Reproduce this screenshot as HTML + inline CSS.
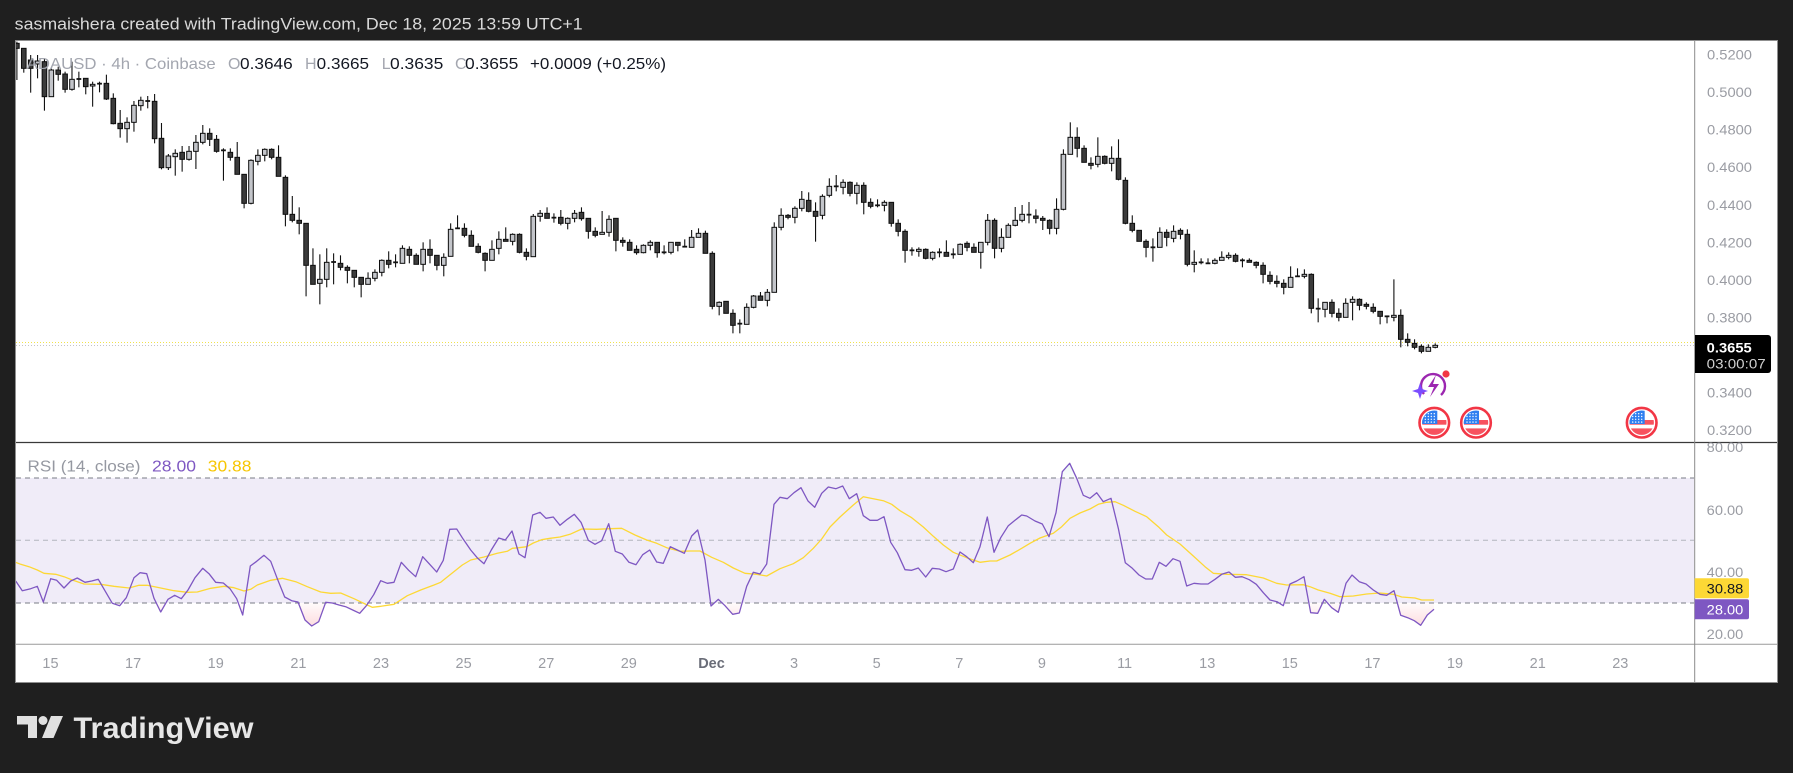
<!DOCTYPE html>
<html><head><meta charset="utf-8">
<style>
html,body{margin:0;padding:0;background:#1f1f1f;}
svg{display:block;}
text{font-family:"Liberation Sans",sans-serif;}
</style></head>
<body>
<svg id="s" xmlns="http://www.w3.org/2000/svg" width="1793" height="773" viewBox="0 0 1793 773">
<defs>
  <clipPath id="cp"><rect x="16" y="41" width="1678" height="401"/></clipPath>
  <clipPath id="cr"><rect x="16" y="442" width="1678" height="202"/></clipPath>
  <clipPath id="below30"><rect x="16" y="603" width="1678" height="41"/></clipPath>
  <clipPath id="above70"><rect x="16" y="442" width="1678" height="36"/></clipPath>
  <clipPath id="lab80"><rect x="1695" y="442.5" width="82" height="30"/></clipPath>
  <linearGradient id="pg" x1="0" y1="603" x2="0" y2="634" gradientUnits="userSpaceOnUse">
    <stop offset="0" stop-color="#f23645" stop-opacity="0.02"/>
    <stop offset="1" stop-color="#f23645" stop-opacity="0.22"/>
  </linearGradient>
  <linearGradient id="gg" x1="0" y1="478" x2="0" y2="447" gradientUnits="userSpaceOnUse">
    <stop offset="0" stop-color="#089981" stop-opacity="0.02"/>
    <stop offset="1" stop-color="#089981" stop-opacity="0.15"/>
  </linearGradient>
  <clipPath id="fc1"><circle cx="0" cy="0" r="12.2"/></clipPath>
</defs>

<!-- title -->
<text x="14.7" y="29.5" font-size="17" fill="#d9d9d9" textLength="568" lengthAdjust="spacingAndGlyphs">sasmaishera created with TradingView.com, Dec 18, 2025 13:59 UTC+1</text>

<!-- chart frame -->
<rect x="15.5" y="40.5" width="1762" height="642" fill="#ffffff" stroke="#8f8f8f" stroke-width="1"/>

<!-- RSI band -->
<rect x="16" y="478" width="1678" height="125" fill="#f0ecf8"/>
<line x1="16" y1="478" x2="1694" y2="478" stroke="#787b86" stroke-width="1" stroke-dasharray="5,4"/>
<line x1="16" y1="540.3" x2="1694" y2="540.3" stroke="#b2b5be" stroke-width="1" stroke-dasharray="5,4"/>
<line x1="16" y1="603" x2="1694" y2="603" stroke="#787b86" stroke-width="1" stroke-dasharray="5,4"/>

<!-- price dotted line -->
<line x1="16" y1="342.5" x2="1694" y2="342.5" stroke="#f2e34a" stroke-width="1" stroke-dasharray="1,2"/>
<line x1="16" y1="345.5" x2="1694" y2="345.5" stroke="#c4c4c4" stroke-width="1" stroke-dasharray="1,2"/>

<g id="candles" clip-path="url(#cp)"></g>
<g id="rsi" clip-path="url(#cr)"></g>

<!-- separators -->
<line x1="16" y1="442.5" x2="1777" y2="442.5" stroke="#3a3a3a" stroke-width="1.2"/>
<line x1="16" y1="644.3" x2="1777" y2="644.3" stroke="#9a9a9a" stroke-width="1"/>
<line x1="1694.7" y1="41" x2="1694.7" y2="682" stroke="#8a8a8a" stroke-width="1"/>

<!-- legend -->
<g font-size="16">
  <text x="26.7" y="69" fill="#a3a6af" textLength="189" lengthAdjust="spacingAndGlyphs">ADAUSD · 4h · Coinbase</text>
  <text x="228" y="69" fill="#a3a6af">O</text>
  <text x="240" y="69" fill="#131722" textLength="52.7" lengthAdjust="spacingAndGlyphs">0.3646</text>
  <text x="305" y="69" fill="#a3a6af">H</text>
  <text x="316.7" y="69" fill="#131722" textLength="52.3" lengthAdjust="spacingAndGlyphs">0.3665</text>
  <text x="381.7" y="69" fill="#a3a6af">L</text>
  <text x="390" y="69" fill="#131722" textLength="53.3" lengthAdjust="spacingAndGlyphs">0.3635</text>
  <text x="455" y="69" fill="#a3a6af">C</text>
  <text x="465" y="69" fill="#131722" textLength="53.3" lengthAdjust="spacingAndGlyphs">0.3655</text>
  <text x="530" y="69" fill="#131722" textLength="136" lengthAdjust="spacingAndGlyphs">+0.0009 (+0.25%)</text>
</g>
<g font-size="16">
  <text x="27.5" y="471.5" fill="#9598a1" textLength="113" lengthAdjust="spacingAndGlyphs">RSI (14, close)</text>
  <text x="152" y="471.5" fill="#7e57c2" textLength="44" lengthAdjust="spacingAndGlyphs">28.00</text>
  <text x="207.8" y="471.5" fill="#f7c600" textLength="43.6" lengthAdjust="spacingAndGlyphs">30.88</text>
</g>

<!-- price axis labels -->
<g id="paxis" font-size="14" fill="#9a9ca3"></g>

<!-- current price box -->
<path d="M1695,335 H1768 a3,3 0 0 1 3,3 V370 a3,3 0 0 1 -3,3 H1695 Z" fill="#000"/>
<text x="1706.7" y="352.3" font-size="14" font-weight="bold" fill="#ffffff" textLength="45" lengthAdjust="spacingAndGlyphs">0.3655</text>
<text x="1706.7" y="368.3" font-size="14" fill="#d0d0d0" textLength="59" lengthAdjust="spacingAndGlyphs">03:00:07</text>

<!-- RSI axis labels -->
<g font-size="14" fill="#9a9ca3">
  <text x="1706.7" y="452" textLength="36.6" lengthAdjust="spacingAndGlyphs" clip-path="url(#lab80)">80.00</text>
  <text x="1706.7" y="515" textLength="36.6" lengthAdjust="spacingAndGlyphs">60.00</text>
  <text x="1706.7" y="577" textLength="36.6" lengthAdjust="spacingAndGlyphs">40.00</text>
  <text x="1706.7" y="639" textLength="36.6" lengthAdjust="spacingAndGlyphs">20.00</text>
</g>
<path d="M1694.7,578.3 H1747 a2,2 0 0 1 2,2 V596.3 a2,2 0 0 1 -2,2 H1694.7 Z" fill="#fdd835"/>
<text x="1706.7" y="593.5" font-size="14" fill="#131722" textLength="36.6" lengthAdjust="spacingAndGlyphs">30.88</text>
<path d="M1694.7,599.3 H1747 a2,2 0 0 1 2,2 V617.3 a2,2 0 0 1 -2,2 H1694.7 Z" fill="#7e57c2"/>
<text x="1706.7" y="614.5" font-size="14" fill="#ffffff" textLength="36.6" lengthAdjust="spacingAndGlyphs">28.00</text>

<!-- time axis -->
<g id="taxis" font-size="14.5" fill="#9a9ca3" text-anchor="middle"></g>

<!-- icons -->
<g id="icons"></g>

<!-- TradingView logo -->
<g fill="#e0e0e0">
  <path d="M17,716 H37 V738 H28 V724.5 H17 Z"/>
  <circle cx="43" cy="720.5" r="4.5"/>
  <path d="M51,716 H63 L53.5,738 H42 Z"/>
</g>
<text x="73.5" y="738" font-size="30" font-weight="bold" fill="#e6e6e6" textLength="180" lengthAdjust="spacingAndGlyphs">TradingView</text>
</svg>

<script>
(function(){
var NS='http://www.w3.org/2000/svg';
function el(tag,attrs,parent){var e=document.createElementNS(NS,tag);for(var k in attrs)e.setAttribute(k,attrs[k]);parent.appendChild(e);return e;}

var C4=[
['d',10,25,5,120],['d',25,85,25,98],['d',60,85,45,158],['u',63,72,45,115],['d',65,170,55,212],
['u',90,170,85,170],['d',90,103,80,122],['d',102,148,95,158],['u',118,148,65,152],['t',117,117,95,142],
['d',115,140,115,163],['u',133,138,125,200],['t',131,131,125,157],['d',130,177,104,180],['d',175,251,160,253],
['d',250,266,210,293],['u',247,266,232,308],['u',196,247,183,275],['u',181,197,170,212],['t',183,183,168,205],
['d',184,296,162,310],['d',295,383,249,388],['u',348,383,342,390],['u',340,350,328,407],['d',337,358,318,395],
['u',334,358,318,362],['u',307,334,285,387],['u',280,307,255,313],['d',280,298,265,318],['d',298,334,285,338],
['t',331,331,325,422],['d',337,352,325,362],['d',352,403,306,403],['d',403,490,403,505],['u',361,490,358,493],
['u',346,364,328,376],['u',328,346,325,364],['d',328,352,325,358],['d',352,409,316,409],['d',412,523,406,559],
['d',523,541,468,547],['d',541,550,502,583],['d',550,676,550,769],['d',676,733,625,733],['u',718,730,643,793],
['u',667,718,625,742],['t',666,666,640,733],['d',670,682,646,691],['d',682,691,676,730],['d',691,712,691,742],
['d',712,733,712,772],['u',715,733,697,733],['u',697,715,688,724],['u',661,697,658,709],['d',661,673,634,685],
['t',667,667,643,682],['u',625,670,616,670],['d',628,646,619,670],['d',646,673,640,673],['u',628,673,607,694],
['d',628,646,598,670],['d',646,676,646,691],['u',652,676,640,709],['u',568,649,550,649],['t',565,565,526,565],
['d',565,586,550,592],['d',586,619,571,619],['d',619,637,610,640],['d',640,661,637,694],['u',628,661,601,661],
['u',598,625,574,643],['d',598,604,562,604],['u',583,604,580,616],['d',583,637,580,640],['d',637,649,625,661]
];
var C5=[
['u',229,350,222,350],['u',220,229,210,245],['d',220,235,202,235],['t',233,233,220,248],['d',232,250,210,256],
['u',235,250,232,268],['u',220,235,210,247],['d',217,236,202,242],['d',235,274,235,296],['d',274,286,262,292],
['u',277,283,213,283],['u',238,277,226,290],['d',235,301,235,334],['d',301,307,292,320],['d',307,331,298,331],
['d',328,338,316,344],['u',316,338,313,340],['u',307,316,301,331],['d',307,338,307,353],['t',337,337,316,343],
['u',307,337,307,343],['d',307,316,307,334],['t',320,320,298,322],['u',292,322,270,322],['u',280,292,265,292],
['d',280,340,272,340],['d',340,499,334,508],['u',487,499,484,526],['d',484,520,484,520],['d',520,556,508,580],
['t',551,551,538,580],['u',502,553,490,553],['u',468,502,465,505],['d',468,481,456,481],['u',457,481,447,499],
['u',262,457,247,457],['u',226,262,205,271],['d',226,232,222,238],['u',205,232,199,250],['u',178,205,153,214],
['d',181,214,157,217],['d',214,229,187,305],['u',169,226,163,238],['u',139,166,115,172],['t',139,139,105,154],
['u',127,142,118,163],['d',127,160,124,169],['u',136,160,127,193],['d',136,187,127,223],['d',187,199,175,205],
['t',196,196,178,202],['u',187,196,181,214],['d',187,250,187,260],['d',250,274,238,289],['d',274,331,268,368],
['t',331,331,322,347],['u',328,334,322,350],['d',328,355,325,358],['u',337,355,334,361],['t',337,337,325,352],
['d',337,349,301,349],['t',343,343,325,356],['u',313,343,310,343],['d',310,322,304,334],['d',322,337,310,337],
['u',307,337,307,386],['u',241,307,222,316],['d',241,325,235,355],['u',292,325,265,337],['u',256,292,250,292],
['u',241,256,201,259],['u',223,241,195,247],['t',224,224,186,250]
];
var C6=[
['d',318,325,298,340],['d',325,331,318,360],['d',331,355,328,373],['u',298,355,265,373],['u',133,298,118,301],
['u',82,133,37,133],['d',82,115,52,142],['d',115,157,106,157],['d',160,166,142,178],['u',139,163,82,172],
['d',139,160,136,163],['u',145,160,109,184],['d',145,208,88,211],['d',211,340,202,343],['d',340,361,316,367],
['d',361,394,361,394],['d',394,412,388,442],['t',412,412,385,455],['u',367,412,352,412],['d',367,382,358,409],
['u',364,385,346,397],['d',361,373,355,388],['d',373,463,358,469],['u',457,463,421,487],['t',457,457,445,463],
['t',460,460,445,460],['u',451,460,445,463],['u',442,451,424,451],['u',436,442,427,448],['d',436,454,430,457],
['t',451,451,445,472],['d',451,457,445,457],['d',457,466,454,475],['d',466,493,457,520],['d',496,514,484,523],
['d',514,520,496,532],['d',520,532,508,553],['u',502,532,469,532],['t',499,499,475,499],['u',493,499,478,505],
['d',493,595,490,610],['t',596,596,565,637],['u',577,598,577,622],['d',577,610,568,622],['d',610,622,595,634],
['u',580,622,565,622],['u',568,577,559,631],['d',568,586,565,601],['d',583,589,577,598],['d',592,604,580,610],
['d',604,619,604,643],['t',619,619,619,640],['u',616,622,508,634],['d',616,688,598,712],['d',688,697,670,709],
['d',700,712,688,718],['d',709,724,703,730],['u',712,724,703,724],['u',706,712,700,715]
];
var candles=[];
C4.forEach(function(c){candles.push([c[0],40+c[1]/3,40+c[2]/3,40+c[3]/3,40+c[4]/3]);});
C5.forEach(function(c){candles.push([c[0],140+c[1]/3,140+c[2]/3,140+c[3]/3,140+c[4]/3]);});
C6.forEach(function(c){candles.push([c[0],110+c[1]/3,110+c[2]/3,110+c[3]/3,110+c[4]/3]);});

var g=document.getElementById('candles');
candles.forEach(function(c,i){
  var cx=16.9+6.885*i;
  el('line',{x1:cx,y1:c[3],x2:cx,y2:c[4],stroke:'#111',"stroke-width":1.1},g);
  if(c[0]==='t'){
    el('rect',{x:cx-2.4,y:c[1]-0.9,width:4.8,height:1.8,fill:'#111'},g);
  }else{
    var h=Math.max(c[2]-c[1],1.5);
    el('rect',{x:cx-2.3,y:c[1],width:4.6,height:h,fill:c[0]==='u'?'#c3c5ca':'#3b3b3b',stroke:'#0d0d0d',"stroke-width":1},g);
  }
});

var P7=[[5,333],[25,362],[50,356],[70,349],[88,396],[110,326],[128,331],[150,354],[170,333],[190,324],[213,337],[233,333],[253,328],[274,364],[295,400],[317,407],[337,383],[360,323],[378,308],[398,311],[420,385],[440,426],[462,388],[482,376],[502,386],[522,360],[543,323],[566,295],[585,311],[605,337],[628,339],[648,356],[668,386],[686,435],[709,288],[728,274],[750,256],[770,274],[790,326],[812,381],[833,392],[852,396],[873,450],[893,468],[914,455],[935,397],[955,399],[975,405],[995,410],[1016,420],[1037,430],[1058,406],[1079,374],[1100,332],[1120,340],[1140,337],[1162,277],[1184,301],[1205,320],[1226,260],[1247,283],[1268,306],[1288,271],[1307,178],[1328,177],[1348,208],[1370,240],[1391,265],[1410,281],[1432,240],[1454,204],[1474,210],[1494,183],[1515,252]];
var P8=[[15,308],[38,180],[60,172],[78,190],[100,186],[120,211],[142,193],[163,178],[183,202],[205,256],[225,268],[245,257],[266,206],[286,289],[307,297],[327,322],[348,329],[368,299],[389,285],[410,321],[430,325],[451,275],[472,285],[493,295],[515,243],[533,225],[555,315],[573,453],[595,433],[615,452],[638,478],[658,474],[680,394],[700,352],[720,357],[740,327],[762,148],[780,127],[802,131],[822,113],[843,98],[864,138],[884,157],[905,115],[925,96],[948,101],[968,93],[988,131],[1010,116],[1030,182],[1050,196],[1072,196],[1092,185],[1112,262],[1132,293],[1155,344],[1175,346],[1195,339],[1217,366],[1237,340],[1258,342],[1278,350],[1300,342],[1320,291],[1340,305],[1360,323],[1380,275],[1402,186],[1422,292],[1442,248],[1465,212],[1485,196],[1505,180]];
var P9=[[20,198],[45,213],[67,222],[87,260],[108,188],[127,65],[149,40],[170,85],[190,136],[210,145],[230,128],[250,155],[273,145],[295,235],[316,338],[335,353],[357,375],[377,387],[397,387],[418,337],[438,349],[459,326],[480,334],[500,408],[522,400],[543,402],[564,402],[585,388],[605,373],[627,366],[646,382],[666,380],[688,389],[709,403],[730,428],[750,450],[771,455],[790,467],[810,402],[830,393],[852,380],[872,488],[893,490],[913,448],[935,473],[955,487],[978,400],[996,375],[1018,395],[1038,402],[1060,420],[1080,433],[1100,436],[1122,422],[1142,496],[1163,503],[1183,512],[1202,526],[1222,495],[1242,478]];
var Y7=[[0,275],[20,283],[45,290],[70,300],[90,310],[125,313],[150,320],[175,330],[210,342],[260,343],[300,349],[345,354],[375,346],[400,346],[440,354],[480,362],[520,367],[550,366],[590,355],[630,349],[660,353],[690,363],[710,358],[730,345],[770,331],[805,325],[845,335],[880,350],[920,366],[950,370],[980,369],[1020,386],[1060,405],[1075,412],[1100,409],[1140,403],[1180,377],[1220,360],[1260,345],[1280,337],[1310,313],[1345,285],[1370,270],[1410,261],[1450,250],[1480,244],[1495,235],[1515,233]];
var Y8=[[20,275],[40,264],[65,254],[90,250],[120,246],[150,238],[185,222],[230,223],[270,221],[305,220],[345,240],[380,255],[410,265],[440,278],[480,289],[510,288],[540,288],[575,307],[610,322],[640,339],[675,355],[710,358],[740,363],[780,341],[820,326],[850,308],[880,280],[905,252],[930,216],[960,186],[1000,150],[1030,125],[1060,131],[1090,137],[1115,148],[1140,167],[1175,188],[1210,216],[1240,244],[1270,270],[1300,292],[1340,308],[1380,322],[1410,318],[1430,318],[1470,300],[1505,280]];
var Y9=[[30,280],[60,264],[100,250],[125,230],[150,205],[180,189],[210,177],[235,163],[260,157],[285,155],[310,166],[345,184],[380,200],[415,230],[440,255],[480,282],[520,318],[555,350],[580,370],[620,373],[680,374],[730,384],[770,400],[800,405],[850,404],[870,410],[895,420],[930,430],[960,440],[1000,438],[1040,432],[1080,429],[1120,433],[1145,441],[1185,444],[1205,450],[1242,450]];
function conv(a,ox,oy){return a.map(function(p){return [ox+p[0]/3,oy+p[1]/3];});}
var rsi=conv(P7,14,470).concat(conv(P8,520,455)).concat(conv(P9,1020,450));
var ma=conv(Y7,14,470).concat(conv(Y8,520,455)).concat(conv(Y9,1020,450));
function pts(a){return a.map(function(p){return p[0].toFixed(1)+','+p[1].toFixed(1);}).join(' ');}
var r=document.getElementById('rsi');
var first=rsi[0],last=rsi[rsi.length-1];
var lineSeg=pts(rsi).split(' ').join(' L');
// region above the line (toward top), clipped to y>603 -> fill between 30-line and RSI where RSI<30
var dUp='M'+first[0]+',440 L'+lineSeg+' L'+last[0]+',440 Z';
el('path',{d:dUp,fill:'url(#pg)',"clip-path":'url(#below30)'},r);
// region below the line (toward bottom), clipped to y<478 -> fill where RSI>70
var dDown='M'+first[0]+',660 L'+lineSeg+' L'+last[0]+',660 Z';
el('path',{d:dDown,fill:'url(#gg)',"clip-path":'url(#above70)'},r);
el('polyline',{points:pts(ma),fill:'none',stroke:'#fdd835',"stroke-width":1.3,"stroke-linejoin":'round'},r);
el('polyline',{points:pts(rsi),fill:'none',stroke:'#7e57c2',"stroke-width":1.3,"stroke-linejoin":'round'},r);

var pa=document.getElementById('paxis');
[0.52,0.50,0.48,0.46,0.44,0.42,0.40,0.38,0.34,0.32].forEach(function(v){
  var y=54.3+(0.52-v)*1878.5;
  var t=el('text',{x:1707,y:(y+5.2).toFixed(1),textLength:45,lengthAdjust:'spacingAndGlyphs'},pa);
  t.textContent=v.toFixed(4);
});

var ta=document.getElementById('taxis');
var labs=['15','17','19','21','23','25','27','29','Dec','3','5','7','9','11','13','15','17','19','21','23'];
labs.forEach(function(l,k){
  var x=50.5+82.62*k;
  var t=el('text',{x:x.toFixed(1),y:668},ta);
  if(l==='Dec'){t.setAttribute('fill','#6a6d78');t.setAttribute('font-weight','bold');}
  t.textContent=l;
});

var ic=document.getElementById('icons');
function flag(cx,cy){
  var gg=el('g',{transform:'translate('+cx+','+cy+')'},ic);
  el('circle',{cx:0,cy:0,r:14.8,fill:'#fff',stroke:'#f23645',"stroke-width":2.6},gg);
  var inner=el('g',{"clip-path":'url(#fc1)'},gg);
  el('rect',{x:-13,y:-13,width:26,height:26,fill:'#ffffff'},inner);
  el('rect',{x:-13,y:-2.7,width:26,height:4.7,fill:'#f7525f'},inner);
  el('rect',{x:-13,y:5.7,width:26,height:8,fill:'#f7525f'},inner);
  el('rect',{x:-13,y:-13,width:16,height:14.3,fill:'#2f7ff0'},inner);
  for(var a=0;a<4;a++)for(var b=0;b<4;b++){
    el('circle',{cx:-9+a*3,cy:-9+b*2.8,r:0.7,fill:'#fff'},inner);
  }
}
flag(1434.3,422.7);flag(1476,422.7);flag(1641.7,422.7);
var lg=el('g',{},ic);
el('path',{d:'M1424,394 A12,12 0 1 1 1441,395',fill:'none',stroke:'#9c27b0',"stroke-width":2.4},lg);
el('path',{d:'M1436,375 L1428,387 L1434,387 L1430,397 L1439,384 L1433,384 Z',fill:'#9c27b0'},lg);
el('path',{d:'M1420,383 L1422,389 L1428,391 L1422,393 L1420,399 L1418,393 L1412,391 L1418,389 Z',fill:'#7b4dff'},lg);
el('circle',{cx:1446,cy:374,r:3.6,fill:'#f23645'},lg);
})();
</script>
</body></html>
